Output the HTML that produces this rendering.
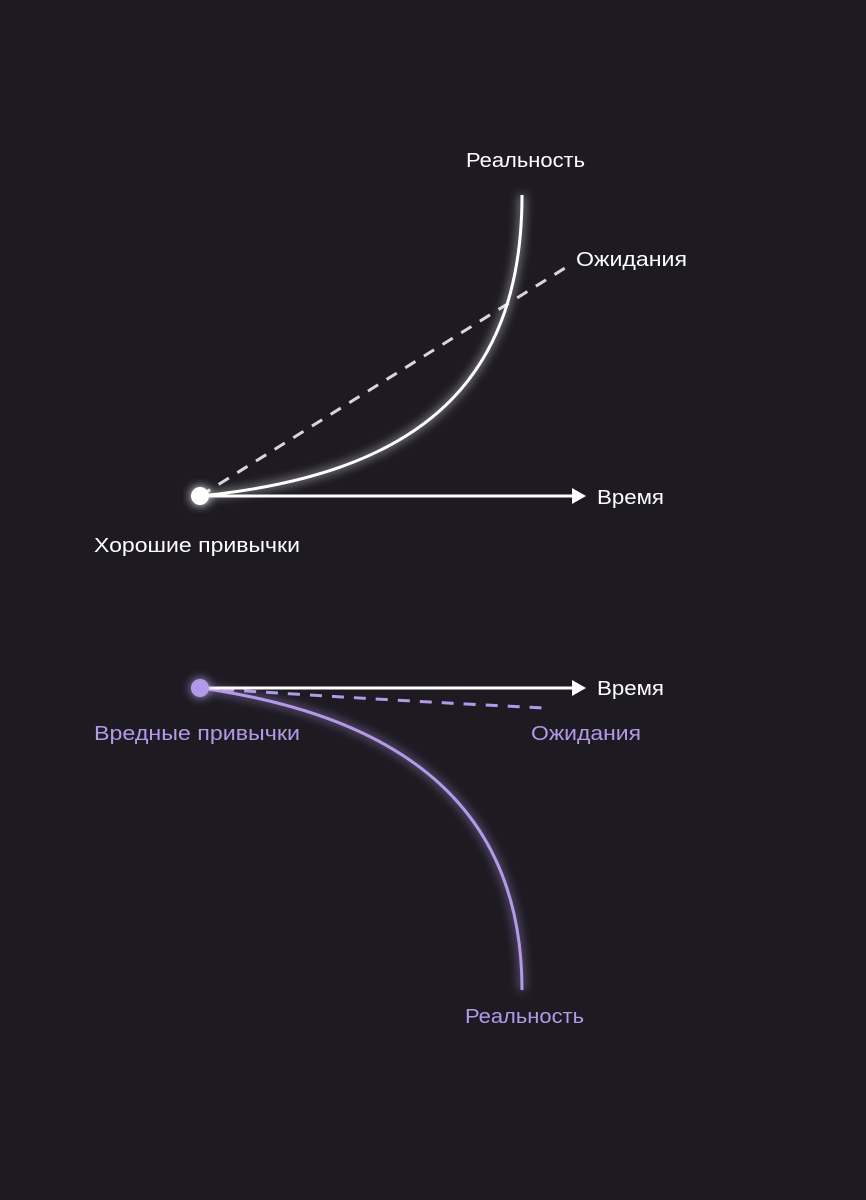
<!DOCTYPE html>
<html><head><meta charset="utf-8"><style>
html,body{margin:0;padding:0;background:#1d1a22;}
svg{display:block}
text{font-family:"Liberation Sans",sans-serif;font-size:20px;}
</style></head><body>
<svg width="866" height="1200" viewBox="0 0 866 1200">
<defs>
<filter id="g" x="-50%" y="-50%" width="200%" height="200%"><feGaussianBlur stdDeviation="5" result="b"/><feMerge><feMergeNode in="b"/><feMergeNode in="SourceGraphic"/></feMerge></filter>
</defs>
<rect width="866" height="1200" fill="#1d1a22"/>
<!-- top -->
<line x1="200" y1="496" x2="565" y2="268" stroke="#d8d6dc" stroke-width="3" stroke-dasharray="12,10"/>
<path d="M200,496 C410,475 522,390 522,195" fill="none" stroke="#fff" stroke-width="3" filter="url(#g)"/>
<line x1="200" y1="496" x2="574" y2="496" stroke="#fff" stroke-width="3"/>
<polygon points="572,488 586,496 572,504" fill="#fff"/>
<circle cx="200" cy="496" r="9" fill="#fff" filter="url(#g)"/>
<text x="466" y="167" fill="#fff" textLength="119" lengthAdjust="spacingAndGlyphs">Реальность</text>
<text x="576" y="266" fill="#fff" textLength="111" lengthAdjust="spacingAndGlyphs">Ожидания</text>
<text x="597" y="504" fill="#fff" textLength="67" lengthAdjust="spacingAndGlyphs">Время</text>
<text x="94" y="552" fill="#fff" textLength="206" lengthAdjust="spacingAndGlyphs">Хорошие привычки</text>
<!-- bottom -->
<path d="M200,688 Q380,700 545,708" fill="none" stroke="#b39ae8" stroke-width="3" stroke-dasharray="12,10"/>
<path d="M200,688 C430,720 522,830 522,990" fill="none" stroke="#b39ae8" stroke-width="3" filter="url(#g)"/>
<line x1="200" y1="688" x2="574" y2="688" stroke="#fff" stroke-width="3"/>
<polygon points="572,680 586,688 572,696" fill="#fff"/>
<circle cx="200" cy="688" r="9" fill="#b39ae8" filter="url(#g)"/>
<text x="597" y="695" fill="#fff" textLength="67" lengthAdjust="spacingAndGlyphs">Время</text>
<text x="94" y="740" fill="#b39ae8" textLength="206" lengthAdjust="spacingAndGlyphs">Вредные привычки</text>
<text x="531" y="740" fill="#b39ae8" textLength="110" lengthAdjust="spacingAndGlyphs">Ожидания</text>
<text x="465" y="1023" fill="#b39ae8" textLength="119" lengthAdjust="spacingAndGlyphs">Реальность</text>
</svg>
</body></html>
